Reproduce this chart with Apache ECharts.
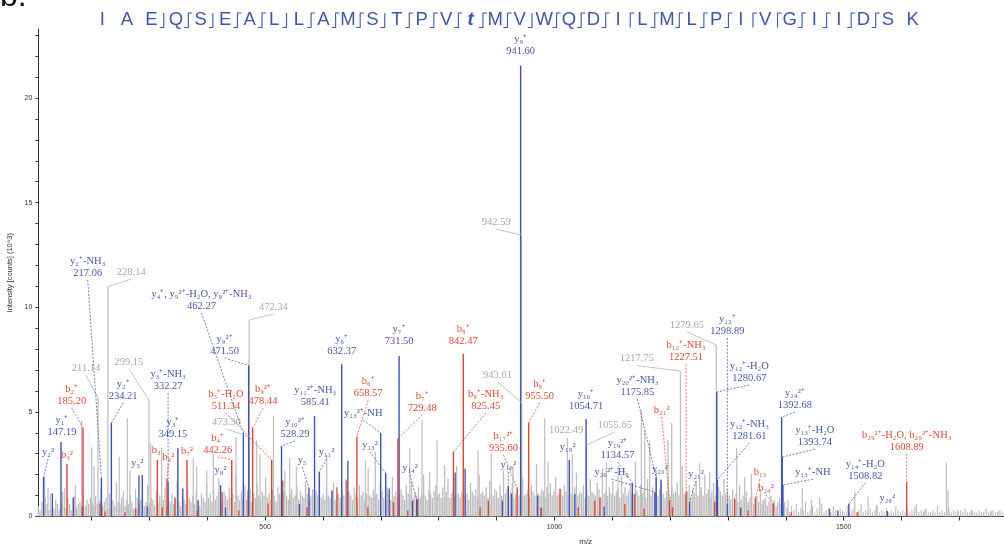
<!DOCTYPE html>
<html><head><meta charset="utf-8">
<script src="https://cdn.jsdelivr.net/npm/echarts@6/dist/echarts.min.js"></script>
<style>html,body{margin:0;padding:0;background:#fff}#c{width:1004px;height:548px}</style>
</head><body><div id="c"></div>
<script>
// ---------------- DATA ----------------
// background noise profile (intensity x10^3), sampled every 3 m/z from 108
const noiseStart = 108, noiseStep = 3;
const noise = [
0.5,0.3,0.7,0.4,0.9,0.6,0.3,1.1,0.5,0.4,0.8,0.6,0.35,0.7,1.2,0.5,0.4,0.9,0.6,0.3,0.8,1.0,0.45,0.6,0.7,0.4,1.3,0.5,0.8,0.6,0.9,
0.7,0.5,1.0,0.6,0.8,1.4,0.5,0.7,0.9,0.4,1.1,0.6,0.8,0.5,1.6,0.7,0.6,0.9,1.2,0.5,
0.8,0.6,1.0,0.7,0.4,1.3,0.9,0.6,0.8,1.1,0.5,0.7,1.5,0.6,0.9,0.8,0.5,1.2,0.7,1.0,
0.6,0.8,1.4,0.5,0.9,0.7,1.1,0.6,0.8,1.7,0.7,0.5,1.0,0.8,0.6,1.3,0.9,0.7,1.0,0.6,
1.2,0.8,0.5,1.1,0.9,0.7,1.6,
0.9,1.1,0.7,1.3,0.8,1.0,1.8,0.9,0.7,1.2,1.0,0.8,1.4,0.9,1.1,0.7,2.0,1.0,0.8,1.2,
0.9,1.5,0.8,1.0,1.3,0.7,1.1,0.9,1.6,1.0,0.8,1.2,1.0,1.9,0.9,1.1,0.8,1.3,1.0,0.7,
1.4,1.1,0.9,1.2,2.2,1.0,0.8,1.1,1.3,0.9,1.0,1.5,0.8,1.2,1.0,0.9,1.7,1.1,0.8,1.0,
1.3,0.9,1.2,1.0,2.1,0.9,1.1,0.8,1.4,1.0,0.9,1.2,1.6,0.8,1.0,1.1,0.9,1.3,1.0,1.8,
0.9,1.2,1.0,0.8,1.4,1.1,0.9,1.5,1.0,1.2,0.8,1.1,2.3,1.0,0.9,1.3,1.0,1.1,0.8,1.6,
1.2,0.9,1.0,1.4,1.1,0.8,1.9,1.0,1.2,0.9,1.1,1.3,1.0,0.8,1.5,1.1,1.0,1.7,0.9,1.2,
1.0,1.4,0.9,1.1,2.0,1.0,0.8,1.3,1.1,0.9,1.2,1.5,1.0,
1.1,0.9,1.4,1.0,1.2,1.8,0.9,1.1,1.3,1.0,2.4,1.1,0.9,1.2,1.5,1.0,1.1,0.8,1.6,1.2,
1.0,1.3,0.9,2.0,1.1,1.2,1.0,1.4,0.9,1.7,1.1,1.0,1.3,1.2,0.9,1.5,1.0,2.2,1.1,1.3,
1.0,1.2,1.6,0.9,1.1,1.4,1.0,1.2,1.8,1.0,1.1,1.3,0.9,1.5,1.2,1.0,2.5,1.1,1.0,1.3,
1.2,0.9,1.4,1.1,1.6,1.0,1.2,1.9,1.0,1.1,1.3,1.0,1.5,1.2,0.9,1.7,1.1,1.0,1.4,2.1,
1.0,1.2,1.1,1.5,0.9,1.3,1.0,1.8,1.2,1.1,1.0,1.6,1.3,0.9,2.3,1.1,1.2,1.0,1.4,1.1,
1.7,1.0,1.2,1.3,0.9,2.0,1.1,1.4,1.0,1.2,1.6,1.0,1.1,2.6,1.2,1.0,1.5,1.1,1.3,0.9,
1.8,1.2,1.0,1.4,1.1,2.2,1.0,1.3,1.5,1.1,0.9,1.2,1.9,1.0,1.4,1.1,1.2,1.6,1.0,1.3,
2.4,1.1,1.0,1.2,1.5,0.9,1.3,1.1,1.7,1.0,1.2,1.4,1.0,2.0,1.1,1.3,0.9,1.2,1.6,1.0,
1.1,1.4,1.2,1.0,1.8,1.1,1.3,
1.0,0.8,1.3,0.9,1.1,0.7,1.5,0.8,1.0,0.9,1.2,0.7,0.9,1.1,0.6,0.8,1.0,0.7,1.3,0.6,
0.8,0.9,0.5,0.7,1.0,0.6,0.8,0.5,0.7,0.9,0.6,0.5,0.7
];
// low tail noise above m/z 1400, sampled every 4 m/z
const tailStart = 1402, tailStep = 4;
const tail = [
0.4,0.2,0.5,0.3,0.6,0.2,0.4,0.3,0.7,0.2,0.3,0.5,0.2,0.4,0.3,0.6,0.2,0.3,0.4,0.2,
0.5,0.3,0.2,0.4,0.3,0.2,0.5,0.2,0.3,0.4,0.2,0.3,0.6,0.2,0.3,0.2,0.4,0.2,0.3,0.5,
0.2,0.3,0.2,0.4,0.2,0.3,0.2,0.5,0.3,0.2,0.3,0.2,0.4,0.2,0.3,0.2,0.6,0.2,0.3,0.2,
0.4,0.2,0.2,0.3,0.2,0.5,0.2,0.3,0.2,0.2,0.4,0.2,0.3,0.2,0.2,0.3,0.2,0.4,0.2,0.2,
0.3,0.2,0.2,0.3,0.2,0.2,0.4,0.2,0.2,0.3,0.2,0.2,0.3,0.2
];
// unassigned major peaks [m/z, intensity]
const grayPeaks = [
[119.0,1.9],[124.7,1.36],[153.6,1.36],[171.9,1.5],[182.9,4.6],[200.2,3.3],[204.2,2.4],[247.9,2.86],[261.8,4.7],[266.4,2.2],
[302.2,3.5],[321.2,3.3],[375.8,2.8],[381.7,2.4],[399.0,2.2],[410.4,3.0],[449.6,3.8],[485.4,3.65],[491.1,3.0],[514.4,4.8],
[542.4,2.8],[553.9,2.4],[606.4,2.94],[673.1,2.7],[690.4,3.1],[749.9,3.27],[771.1,4.6],[784.4,2.14],[797.0,3.65],[810.4,2.46],
[867.9,3.18],[890.9,3.0],[928.4,2.4],[983.2,4.7],[988.9,2.6],[1030.9,3.0],[1089.7,2.6],[1109.9,2.4],[1150.2,5.1],[1156.0,4.1],
[1164.7,3.65],[1196.3,3.65],[1202.7,4.47],[1251.1,2.54],[1268.4,2.14],[1315.1,3.26],[1328.9,1.9],[1340.3,2.06],
[1360.5,0.8],[1403.7,0.8],[1428.4,1.35],[1444.0,0.8],[1458.5,0.88],[1519.0,1.19],[1542.0,0.95],[1556.4,0.55],
[1622.7,0.47],[1640.0,0.31],[1677.3,2.57],[1680.3,1.27],[1697.5,0.31],[1720.5,0.31],[1755.1,0.26],[1766.7,0.26]
];
// labelled unassigned peaks
const grayLabeled = [[211.14,5.66],[228.14,10.99],[299.15,5.57],[472.34,9.39],[473.30,3.8],[942.59,13.45],[943.61,5.43],[1022.49,3.75],[1055.65,3.42],[1217.75,6.95],[1279.65,8.2]];
const grayLabels = ['211.14','228.14','299.15','472.34','473.30','942.59','943.61','1022.49','1055.65','1217.75','1279.65'];
// assigned y ions
const yIons = [[117,1.89],[147.19,3.56],[217.06,1.84],[234.21,4.47],[287.7,1.98],[332.27,1.64],[349.15,3.27],[423.0,1.5],[462.27,3.99],[471.50,7.22],
[528.29,3.37],[575.8,1.36],[585.41,4.8],[593.6,2.13],[632.37,7.28],[699.7,3.99],[708.4,2.08],[731.50,7.67],[762.0,0.79],[920.3,1.46],
[941.60,21.55],[1025.7,2.7],[1054.71,4.66],[1134.57,1.6],[1173.8,1.17],[1175.85,1.88],[1184.1,1.77],[1280.67,5.95],[1281.61,1.75],[1233.5,0.69],
[1298.89,0.6],[1392.68,4.75],[1393.74,2.84],[1395.0,1.5],[1508.82,0.6],[1575.3,0.26]];
const yLabels = ['y₂²','y₁⁺\n147.19','y₂⁺-NH₃\n217.06','y₂⁺\n234.21','y₅²','y₃⁺-NH₃\n332.27','y₃⁺\n349.15','y₈²','y₄⁺, y₉²⁺-H₂O, y₉²⁺-NH₃\n462.27','y₉²⁺\n471.50',
'y₁₀²⁺\n528.29','y₅','y₁₁²⁺-NH₃\n585.41','y₁₁²','y₆⁺\n632.37','y₁₃²⁺-NH','y₁₃²','y₇⁺\n731.50','y₁₄²','y₁₆²',
'y₉⁺\n941.60','y₁₈²','y₁₀⁺\n1054.71','y₁₉²⁺\n1134.57','y₂₀²⁺-H₂','y₂₀²⁺-NH₃\n1175.85','y₂₀²','y₁₂⁺-H₂O\n1280.67','y₁₂⁺-NH₃\n1281.61','y₂₁²',
'y₁₂⁺\n1298.89','y₂₄²⁺\n1392.68','y₁₃⁺-H₂O\n1393.74','y₁₃⁺-NH','y₁₄⁺-H₂O\n1508.82','y₂₈²'];
// assigned b ions
const bIons = [[157.5,2.51],[185.20,4.23],[313.6,2.7],[330.4,1.79],[364.9,2.7],[442.26,2.7],[478.44,4.23],[511.34,2.7],[658.57,3.82],[729.48,3.73],
[825.45,3.08],[842.47,7.77],[935.60,1.34],[955.50,4.47],[1198.9,0.79],[1227.51,1.2],[1347.5,0.88],[1378.3,0.65],[1608.89,1.66]];
const bLabels = ['b₃²','b₂⁺\n185.20','b₃','b₆²','b₇²','b₄⁺\n442.26','b₉²⁺\n478.44','b₅⁺-H₂O\n511.34','b₆⁺\n658.57','b₇⁺\n729.48',
'b₈⁺-NH₃\n825.45','b₈⁺\n842.47','b₁₇²⁺\n935.60','b₉⁺\n955.50','b₂₁²','b₁₂⁺-NH₃\n1227.51','b₁₃','b₂₄²','b₂₉²⁺-H₂O, b₂₉²⁺-NH₃\n1608.89'];
// other matched fragment peaks (unlabelled)
const yOther = [[132.3,1.1],[168.5,0.92],[184.0,0.48],[281.9,1.96],[296.2,0.48],[357.8,1.34],[384.2,0.76],[431.5,0.44],[559.2,0.6],[615.4,1.24],
[643.0,2.67],[714.5,1.34],[754.7,0.76],[828.4,2.1],[845.6,2.3],[910.0,0.76],[926.0,1.1],[970.9,1.0],[976.8,0.43],[1035.4,1.08],
[1086.0,0.48],[1321.9,0.43],[1475.5,0.37],[1489.8,0.29]];
const bOther = [[214.6,0.62],[223.2,0.24],[257.7,0.2],[276.2,0.38],[322.1,0.44],[344.0,0.92],[382.5,0.29],[425.6,1.16],[454.4,0.29],[470.5,1.24],
[505.0,0.62],[530.4,1.72],[572.3,0.44],[624.1,1.4],[641.3,1.72],[677.6,0.44],[721.9,0.68],[746.6,0.29],[763.8,0.84],[871.5,0.44],
[885.8,0.76],[977.8,0.37],[1009.6,1.32],[1041.1,0.44],[1069.9,0.76],[1078.6,0.92],[1121.7,0.6],[1139.0,1.08],[1155.0,0.37],[1203.9,0.44],
[1277.0,0.7],[1311.6,0.84],[1334.5,0.29],[1409.2,0.2],[1524.3,0.2]];
const xTicks = [200,300,400,500,600,700,800,900,1000,1100,1200,1300,1400,1500,1600,1700];
const xTickLabels = [500,1000,1500];
const yTicks = [0,1,2,3,4,5,6,7,8,9,10,11,12,13,14,15,16,17,18,19,20,21,22,23];
const yTickLabels = [0,5,10,15,20];
const sequence = ['I','A','E','Q','S','E','A','L','L','A','M','S','T','P','V','t','M','V','W','Q','D','I','L','M','L','P','I','V','G','I','I','D','S','K'];
const seqMarks = ['','','y','yb','y','yb','yb','y','yb','yb','yb','y','yb','yb','yb','yb','yb','y','yb','yb','yb','b','yb','yb','yb','yb','b','b','yb','yb','yb','yb',''];

// ---------------- LAYOUT (label offsets in px from peak top) ----------------
const yOffsets = [[4.5,-19],[1,-4],[-13.7,-199],[11.8,-21],[-5,-6],[0,-90],[-5,-7.5],[0,-9],[-41.8,-121],[-24,-8.5],
[13.5,-6],[-6.7,-22],[0.7,-8],[7.4,-14],[0,-7],[-17.4,-14],[-15.7,-22],[0,-9],[-6.7,-26],[0,-15],
[0,-8.7],[-1.6,-7],[0,-7],[-14.7,-22],[-43.3,-14],[-18.7,-79],[-1,-4],[32.5,-8],[32,-38],[6.5,-22],
[0,-167],[13.3,-6],[32.7,-9],[30,-7],[16.5,-22],[0,-7]];
const bOffsets = [[0,-3],[-11.3,-21],[-1,-4],[1.3,-16],[0,-3],[-14,-4],[10.3,-21],[-45.8,-48],[11.3,-37.5],[24.3,-24.5],
[32.3,-40],[0,-7],[-13.7,-34.5],[11,-21],[-7.8,-84],[0,-128],[4.5,-20],[-7.3,-9],[0,-29]];
const grayOffsets = [[-12,-24],[23.4,-8.5],[-20,-32],[24.3,-7],[-23.3,-9],[-25,-7],[-24.3,-22],[-1.3,-2],[28.3,-14],[-43.6,-6.5],[-29.3,-14]];

const BLUE = '#3f52b6', RED = '#e5432d', GRAY = '#bdbdbd';
const BLUE_T = '#4657ad', RED_T = '#e24a32', GRAY_T = '#a9a9a9';
const LABEL_FONT = "10.5px 'Liberation Serif'";

const noiseData = noise.map((v, i) => [noiseStart + i * noiseStep, v]);
const tailData = tail.map((v, i) => [tailStart + i * tailStep, v]);

function peakRender(color, width, dash) {
  return function (params, api) {
    const x = api.value(0), v = api.value(1);
    const p0 = api.coord([x, 0]), p1 = api.coord([x, v]);
    return { type: 'line', silent: true,
      shape: { x1: p0[0], y1: p0[1], x2: p1[0], y2: p1[1] },
      style: { stroke: color, lineWidth: width, lineDash: dash || null } };
  };
}
function annoRender(labels, offsets, color, leadColor, dashed) {
  return function (params, api) {
    const i = params.dataIndex;
    const p = api.coord([api.value(0), api.value(1)]);
    const o = offsets[i];
    const ax = p[0] + o[0], ay = p[1] + o[1];
    const ch = [{ type: 'text', silent: true,
      style: { text: labels[i], x: ax, y: ay, align: 'center', verticalAlign: 'bottom',
        font: LABEL_FONT, fill: color, lineHeight: 12 } }];
    if (Math.hypot(o[0], o[1]) > 9.2) {
      ch.push({ type: 'line', silent: true,
        shape: { x1: ax, y1: ay + 1, x2: p[0], y2: p[1] },
        style: { stroke: leadColor, lineWidth: 0.8, lineDash: dashed ? [2, 1.5] : null } });
    }
    return { type: 'group', children: ch };
  };
}

// sequence header graphics
const graphic = [];
graphic.push({ type: 'text', left: 0, top: -19, style: { text: 'b.', font: "32px 'Liberation Sans'", fill: '#111' } });
const seqX0 = 102.4, seqDX = 24.55;
sequence.forEach((r, i) => {
  graphic.push({ type: 'text', x: seqX0 + i * seqDX, y: 19.5,
    style: { text: r, align: 'center', verticalAlign: 'middle',
      font: r === 't' ? "italic bold 18.5px 'Liberation Sans'" : "18.5px 'Liberation Sans'", fill: '#3f55b3' } });
});
seqMarks.forEach((m, i) => {
  if (!m) return;
  const mx = seqX0 + i * seqDX + seqDX / 2, yt = 13, yb = 27.5;
  const pts = [];
  if (m.indexOf('y') >= 0) pts.push([mx - 4, yb]);
  pts.push([mx, yb]); pts.push([mx, yt]);
  if (m.indexOf('b') >= 0) pts.push([mx + 4, yt]);
  graphic.push({ type: 'polyline', shape: { points: pts }, style: { stroke: '#3f55b3', lineWidth: 1.1, fill: null } });
});

const chart = echarts.init(document.getElementById('c'), null, { renderer: 'canvas' });
chart.setOption({
  animation: false,
  backgroundColor: '#fff',
  grid: { left: 38.34, right: -129, top: 29, bottom: 31.5, containLabel: false, outerBoundsMode: 'none' },
  xAxis: {
    type: 'value', min: 108, max: 2000,
    name: 'm/z', nameLocation: 'middle', nameGap: 21,
    nameTextStyle: { fontSize: 8, color: '#333', fontFamily: 'Liberation Sans' },
    axisLine: { show: true, lineStyle: { color: '#333', width: 1 } },
    axisTick: { show: true, customValues: xTicks, length: 4, lineStyle: { color: '#333' } },
    axisLabel: { show: true, customValues: xTickLabels, formatter: v => String(v), fontSize: 7, color: '#333', margin: 7, fontFamily: 'Liberation Sans' },
    splitLine: { show: false }
  },
  yAxis: {
    type: 'value', min: 0, max: 23.3,
    name: 'Intensity [counts] (10^3)', nameLocation: 'middle', nameGap: 23, nameRotate: 90,
    nameTextStyle: { fontSize: 7.5, color: '#333', fontFamily: 'Liberation Sans' },
    axisLine: { show: true, lineStyle: { color: '#333', width: 1 } },
    axisTick: { show: true, customValues: yTicks, length: 3, lineStyle: { color: '#333' } },
    axisLabel: { show: true, customValues: yTickLabels, formatter: v => String(v), fontSize: 7, color: '#333', margin: 6, fontFamily: 'Liberation Sans' },
    splitLine: { show: false }
  },
  graphic: graphic,
  series: [
    { type: 'custom', data: noiseData, renderItem: peakRender(GRAY, 1.3), z: 1 },
    { type: 'custom', data: tailData, renderItem: peakRender(GRAY, 1.1), z: 1 },
    { type: 'custom', data: grayPeaks, renderItem: peakRender(GRAY, 1.2), z: 2 },
    { type: 'custom', data: grayLabeled, renderItem: peakRender(GRAY, 1.2), z: 2 },
    { type: 'custom', data: yOther, renderItem: peakRender(BLUE, 1.3), z: 3 },
    { type: 'custom', data: bOther, renderItem: peakRender(RED, 1.3), z: 3 },
    { type: 'custom', data: yIons, renderItem: peakRender(BLUE, 1.4), z: 4 },
    { type: 'custom', data: bIons, renderItem: peakRender(RED, 1.4), z: 5 },
    { type: 'custom', data: grayLabeled, renderItem: annoRender(grayLabels, grayOffsets, GRAY_T, '#b5b5b5', false), z: 6 },
    { type: 'custom', data: yIons, renderItem: annoRender(yLabels, yOffsets, BLUE_T, '#5060b8', true), z: 7 },
    { type: 'custom', data: bIons, renderItem: annoRender(bLabels, bOffsets, RED_T, '#e5533d', true), z: 7 }
  ]
});
</script></body></html>
